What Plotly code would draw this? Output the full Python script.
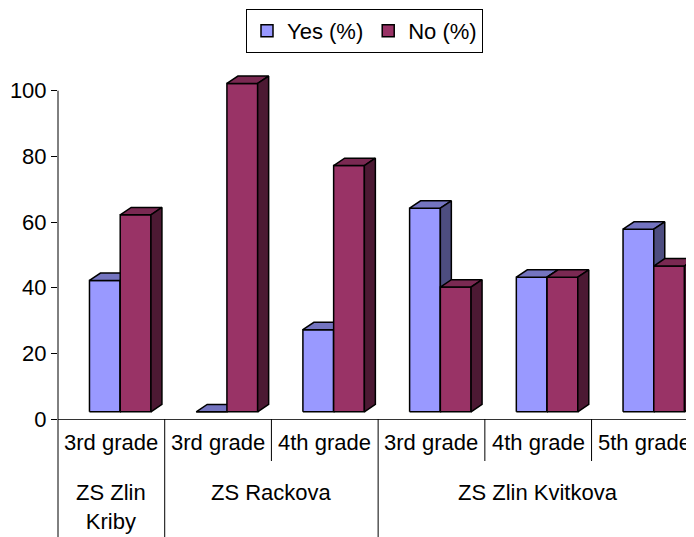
import plotly.graph_objects as go

# ---------------- data ----------------
grades = ["3rd grade", "3rd grade", "4th grade", "3rd grade", "4th grade", "5th grade"]
schools = ["ZS Zlin<br>Kriby", "ZS Rackova", "ZS Zlin Kvitkova"]
school_sizes = [1, 2, 3]  # number of grade columns in each school
yes_pct = [40, 0, 25, 62, 41, 55.6]
no_pct = [60, 100, 75, 38, 41, 44.4]
series_names = ["Yes (%)", "No (%)"]
y_ticks = [0, 20, 40, 60, 80, 100]

# ---------------- style ----------------
FONT = "Arial, Liberation Sans, sans-serif"
PAGE_OFF = 8            # default body margin of the html page
W, H = 694 - PAGE_OFF, 537 - PAGE_OFF
ML, MR, MT, MB = 58 - PAGE_OFF, 0, 71 - PAGE_OFF, 118
PLOT_H = H - MT - MB
Y_MAX = 106
X_RANGE = [-0.5, 5.46]
BAR_W = 0.288
OFFSETS = [-0.205, 0.083]
DX, DY = 0.103, 2.25    # 3D depth in data units
BASE = 2.2              # front face floor raised by perspective
COLORS = [
    {"front": "#9999FF", "top": "#7474C0", "side": "#4D4D80"},
    {"front": "#993366", "top": "#7A2952", "side": "#4C1933"},
]
EDGE = dict(color="black", width=1.5)

fig = go.Figure()


def faces(values, off):
    fx, fy, tx, ty, sx, sy = [], [], [], [], [], []
    for i, v in enumerate(values):
        x0 = i + off
        x1 = x0 + BAR_W
        b = BASE
        t = BASE + v
        fx += [x0, x1, x1, x0, x0, None]
        fy += [b, b, t, t, b, None]
        tx += [x0, x1, x1 + DX, x0 + DX, x0, None]
        ty += [t, t, t + DY, t + DY, t, None]
        sx += [x1, x1 + DX, x1 + DX, x1, x1, None]
        sy += [b, b + DY, t + DY, t, b, None]
    return (fx, fy), (tx, ty), (sx, sy)


for k, (vals, name) in enumerate(zip([yes_pct, no_pct], series_names)):
    front, top, side = faces(vals, OFFSETS[k])
    for (xs, ys), key in ((front, "front"), (top, "top"), (side, "side")):
        fig.add_trace(go.Scatter(
            x=xs, y=ys, mode="lines", fill="toself",
            fillcolor=COLORS[k][key], line=EDGE,
            showlegend=False, hoverinfo="skip",
        ))

# legend entries
for k, name in enumerate(series_names):
    fig.add_trace(go.Scatter(
        x=[None], y=[None], mode="markers", name=name,
        marker=dict(symbol="square", size=12, color=COLORS[k]["front"],
                    line=dict(color="black", width=1.5)),
    ))

shapes = []
y_bottom = -MB / PLOT_H
# y axis line continuing down through the category table
shapes.append(dict(type="line", xref="paper", yref="paper", x0=0, x1=0,
                   y0=y_bottom, y1=y_ticks[-1] / Y_MAX,
                   line=dict(color="black", width=1)))
# dividers
inner_y = -42 / PLOT_H
boundaries = []
acc = 0
for s in school_sizes[:-1]:
    acc += s
    boundaries.append(acc - 0.5)
for i in range(1, len(grades)):
    pos = i - 0.5
    y0 = y_bottom if pos in boundaries else inner_y
    shapes.append(dict(type="line", xref="x", yref="paper", x0=pos, x1=pos,
                       y0=y0, y1=0, line=dict(color="black", width=1)))

annotations = []
for i, g in enumerate(grades):
    annotations.append(dict(x=i, y=-23.5 / PLOT_H, xref="x", yref="paper",
                            text=g, showarrow=False, yanchor="middle",
                            font=dict(size=22, color="black", family=FONT)))
start = 0
for name, size in zip(schools, school_sizes):
    center = start + (size - 1) / 2
    annotations.append(dict(x=center, y=-59 / PLOT_H, xref="x", yref="paper",
                            text=name, showarrow=False, yanchor="top",
                            font=dict(size=22, color="black", family=FONT)))
    start += size

fig.update_layout(
    width=W, height=H,
    margin=dict(l=ML, r=MR, t=MT, b=MB, autoexpand=False),
    paper_bgcolor="white", plot_bgcolor="white",
    font=dict(family=FONT, size=22, color="black"),
    showlegend=True,
    legend=dict(orientation="h", xref="container", yref="container",
                x=(364.5 - PAGE_OFF) / W, xanchor="center",
                y=1 - 1 / H, yanchor="top",
                bordercolor="black", borderwidth=1, bgcolor="white",
                font=dict(size=22, family=FONT), itemwidth=30,
                tracegroupgap=0),
    xaxis=dict(range=X_RANGE, showgrid=False, zeroline=False, showticklabels=False,
               showline=True, linecolor="#333333", linewidth=1, ticks="",
               fixedrange=True, automargin=False),
    yaxis=dict(range=[0, Y_MAX], showgrid=False, zeroline=False, showline=False,
               tickvals=y_ticks, ticks="outside", ticklen=6, tickcolor="black",
               tickfont=dict(size=22, family=FONT, color="black"),
               fixedrange=True, automargin=False),
    shapes=shapes,
    annotations=annotations,
)

fig.write_html("out.html")
